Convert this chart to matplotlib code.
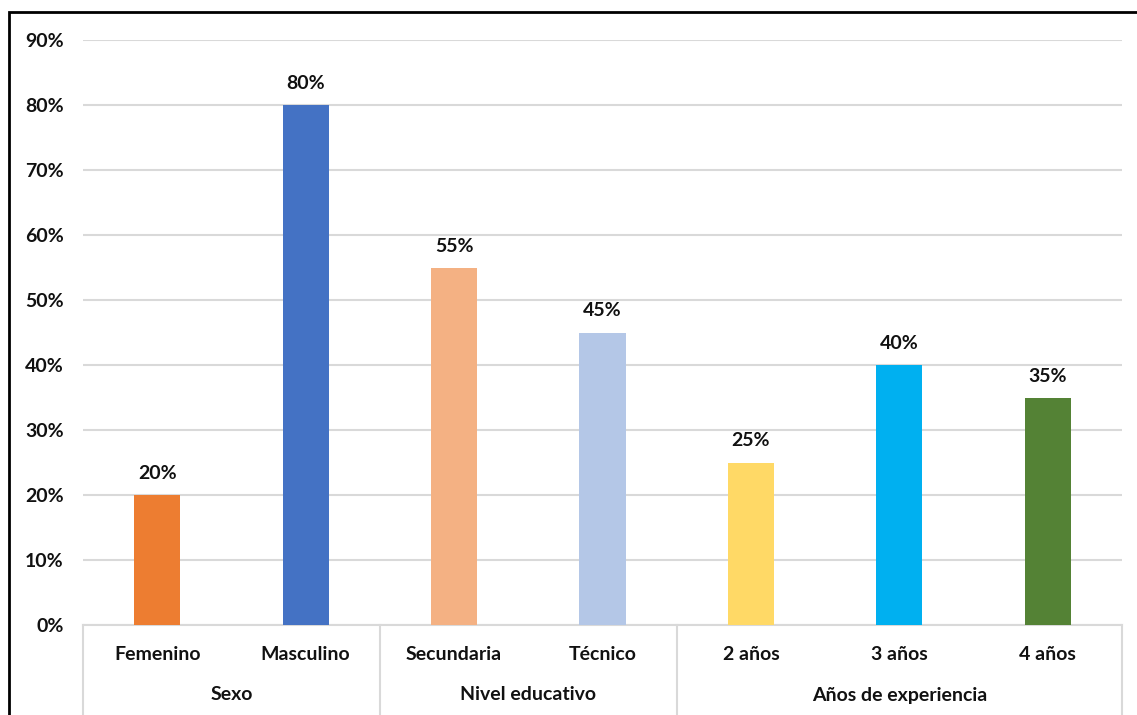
import matplotlib.pyplot as plt
import matplotlib.patches as mpatches
from matplotlib.ticker import PercentFormatter

plt.rcParams["font.family"] = ["Lato", "DejaVu Sans"]
plt.rcParams["font.weight"] = "bold"

# data
categories = ["Femenino", "Masculino", "Secundaria", "Técnico",
              "2 años", "3 años", "4 años"]
values = [20, 80, 55, 45, 25, 40, 35]
colors = ["#ED7D31", "#4472C4", "#F4B183", "#B4C7E7",
          "#FFD966", "#00B0F0", "#548235"]
groups = ["Sexo", "Nivel educativo", "Años de experiencia"]
group_sizes = [2, 2, 3]

GRID = "#D9D9D9"
TXT = "#111111"
FS = 14

fig = plt.figure(figsize=(11.37, 7.15), dpi=100)
ax = fig.add_axes([83 / 1137, 1 - 625 / 715, 1039 / 1137, 585 / 715])

x = list(range(len(categories)))
ax.bar(x, values, width=0.31, color=colors, zorder=3)
for xi, v in zip(x, values):
    ax.text(xi, v + 2.0, f"{v}%", ha="center", va="bottom",
            fontsize=FS, fontweight="bold", color=TXT)

ax.set_xlim(-0.5, len(categories) - 0.5)
ax.set_ylim(0, 90)
ax.set_yticks(range(0, 91, 10))
ax.yaxis.set_major_formatter(PercentFormatter(decimals=0))
ax.tick_params(axis="y", length=0, pad=14, labelsize=FS, labelcolor=TXT)
ax.tick_params(axis="x", length=0, bottom=False, labelbottom=False)
ax.grid(axis="y", color=GRID, lw=1.5, zorder=0)
for s in ["top", "right", "left"]:
    ax.spines[s].set_visible(False)
ax.spines["bottom"].set_color(GRID)
ax.spines["bottom"].set_linewidth(1.5)

# category labels and group labels below the axis
trans = ax.get_xaxis_transform()
for xi, c in zip(x, categories):
    ax.text(xi, -30 / 585, c, transform=trans, ha="center", va="center",
            fontsize=FS, fontweight="bold", color=TXT)

start = 0
bounds = [-0.5]
for g, n in zip(groups, group_sizes):
    center = start + (n - 1) / 2
    ax.text(center, -70 / 585, g, transform=trans, ha="center", va="center",
            fontsize=FS, fontweight="bold", color=TXT)
    start += n
    bounds.append(start - 0.5)
for b in bounds:
    ax.plot([b, b], [0, -90 / 585], transform=trans, color=GRID, lw=1.5,
            clip_on=False)

# outer border of the chart
fig.patches.append(mpatches.Rectangle(
    (9 / 1137, -0.1), 1.2, 1 - 12 / 715 + 0.1, transform=fig.transFigure,
    fill=False, edgecolor="black", lw=2))

fig.savefig("out.png", dpi=100)
